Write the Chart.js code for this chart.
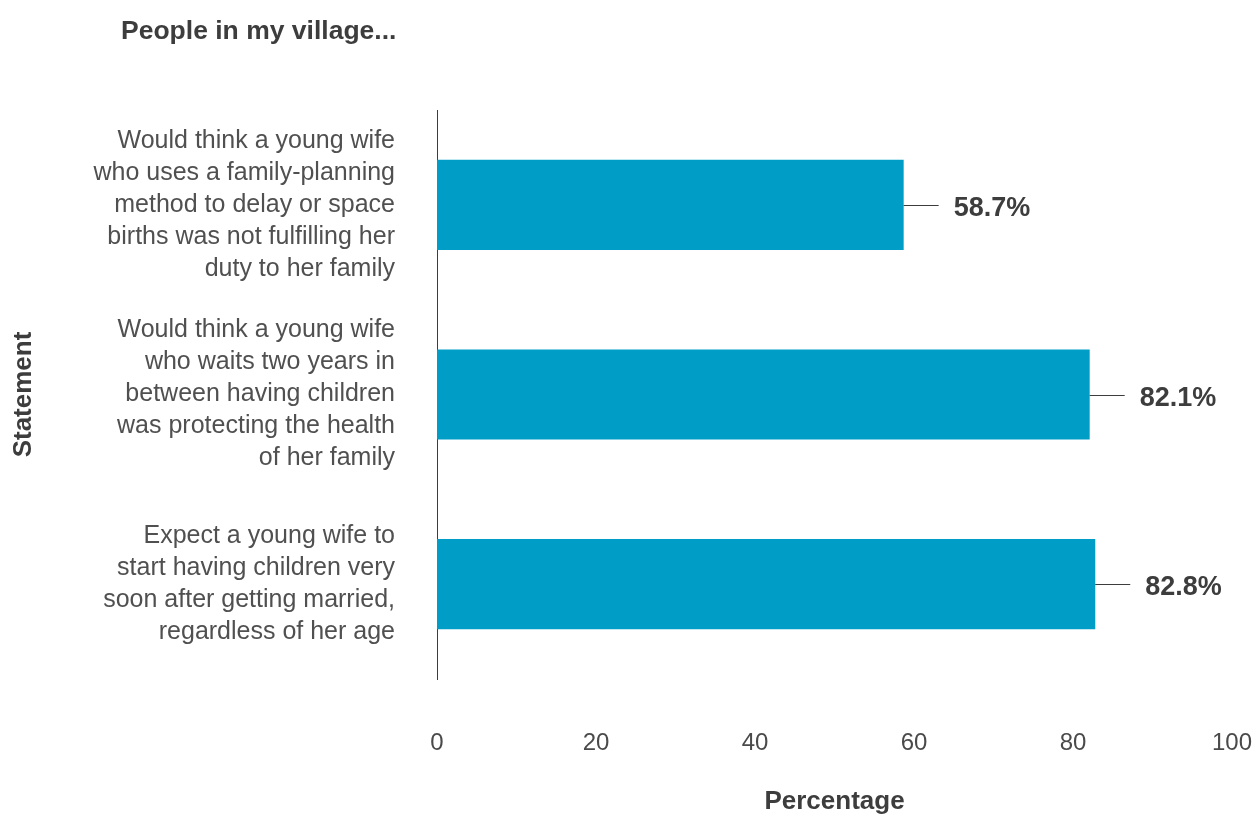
<!DOCTYPE html>
<html>
<head>
<meta charset="utf-8">
<script src="https://cdn.jsdelivr.net/npm/chart.js@4/dist/chart.umd.min.js"></script>
<style>
  html, body { margin: 0; padding: 0; background: #ffffff; }
  #wrap { width: 1256px; height: 817px; position: relative; }
</style>
</head>
<body>
<div id="wrap"><canvas id="c" width="1256" height="817"></canvas></div>
<script>
// Survey statements (wrapped as they appear on the axis)
const statements = [
  ["Would think a young wife", "who uses a family-planning", "method to delay or space", "births was not fulfilling her", "duty to her family"],
  ["Would think a young wife", "who waits two years in", "between having children", "was protecting the health", "of her family"],
  ["Expect a young wife to", "start having children very", "soon after getting married,", "regardless of her age"]
];
// Share of respondents agreeing (%)
const percentages = [58.7, 82.1, 82.8];
// Value-axis ticks
const xTicks = [0, 20, 40, 60, 80, 100];

const chartTitle = "People in my village...";
const xTitle = "Percentage";
const yTitle = "Statement";

const BOLD = "'Liberation Sans', Arial, Helvetica, sans-serif";
const REG = "'Liberation Sans', Arial, Helvetica, sans-serif";
const INVISIBLE = 'rgba(0,0,0,0)';

// Heading drawn in the top-left corner
const headingPlugin = {
  id: 'heading',
  afterDraw(chart) {
    const ctx = chart.ctx;
    ctx.save();
    ctx.font = "bold 26.5px " + BOLD;
    ctx.fillStyle = '#3d3d3d';
    ctx.textAlign = 'left';
    ctx.textBaseline = 'alphabetic';
    ctx.fillText(chartTitle, 121, 39);
    ctx.restore();
  }
};

// Value labels with a short leader line after each bar
const valueLabelPlugin = {
  id: 'valueLabels',
  afterDatasetsDraw(chart) {
    const ctx = chart.ctx;
    const meta = chart.getDatasetMeta(0);
    ctx.save();
    meta.data.forEach((bar, i) => {
      const x = bar.x, y = Math.round(bar.y) + 0.5;
      ctx.strokeStyle = '#3d3d3d';
      ctx.lineWidth = 1;
      ctx.beginPath();
      ctx.moveTo(x, y);
      ctx.lineTo(x + 35, y);
      ctx.stroke();
      ctx.font = "bold 27px " + BOLD;
      ctx.fillStyle = '#3d3d3d';
      ctx.textAlign = 'left';
      ctx.textBaseline = 'alphabetic';
      ctx.fillText(percentages[i].toFixed(1) + '%', x + 50, bar.y + 11);
    });
    ctx.restore();
  }
};

new Chart(document.getElementById('c'), {
  type: 'bar',
  data: {
    labels: statements,
    datasets: [{
      data: percentages,
      backgroundColor: '#009ec7',
      borderWidth: 0,
      categoryPercentage: 1.0,
      barPercentage: 0.475
    }]
  },
  options: {
    indexAxis: 'y',
    responsive: false,
    animation: false,
    devicePixelRatio: 1,
    layout: { padding: { top: 110, right: 24, bottom: 0, left: 0 } },
    plugins: {
      legend: { display: false },
      tooltip: { enabled: false },
      title: { display: false }
    },
    scales: {
      x: {
        type: 'linear',
        min: 0,
        max: 100,
        afterBuildTicks(scale) { scale.ticks = xTicks.map(v => ({ value: v })); },
        afterFit(scale) { scale.height = 138; },
        grid: { display: false, drawTicks: true, tickLength: 47, tickColor: INVISIBLE },
        border: { display: false },
        ticks: {
          padding: 3,
          color: '#4a4a4a',
          font: { family: REG, size: 24 },
          maxRotation: 0
        },
        title: {
          display: true,
          text: xTitle,
          color: '#3d3d3d',
          font: { family: BOLD, size: 26, weight: 'bold' },
          padding: { top: 0, bottom: 0 }
        }
      },
      y: {
        afterFit(scale) { scale.width = 437; },
        grid: { display: false, drawTicks: true, tickLength: 39, tickColor: INVISIBLE },
        border: { display: true, color: '#3d3d3d', width: 1 },
        ticks: {
          padding: 3,
          color: '#505050',
          font: { family: REG, size: 25, lineHeight: 1.28 }
        },
        title: {
          display: true,
          text: yTitle,
          color: '#3d3d3d',
          font: { family: BOLD, size: 26, weight: 'bold' },
          padding: { top: 8, bottom: 0 }
        }
      }
    }
  },
  plugins: [headingPlugin, valueLabelPlugin]
});
</script>
</body>
</html>
